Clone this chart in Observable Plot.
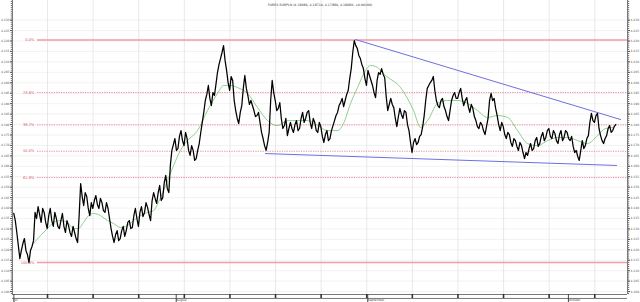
<!DOCTYPE html>
<html><head><meta charset="utf-8">
<script src="https://cdn.jsdelivr.net/npm/d3@7"></script>
<script src="https://cdn.jsdelivr.net/npm/@observablehq/plot@0.6"></script>
<style>body{margin:0;background:#fff}svg{display:block}</style>
</head><body><div id="chart"></div>
<script>
const title = "FOREX EURPLN (4.18080, 4.18710, 4.17880, 4.18080, +0.00100)";

// price series: trading-day index (0 = Mon 7 Jul 2014), one value per 1/3 trading day
const priceStart = 1.3;
const priceStep = 1 / 3;
const prices = [
 4.1374,4.1283,4.1158,4.1230,4.1197,4.1139,4.1216,4.1379,4.1407,4.1331,
 4.1379,4.1302,4.1398,4.1312,4.1350,4.1302,4.1374,4.1283,4.1316,4.1264,
 4.1283,4.1235,4.1517,4.1412,4.1455,4.1364,4.1398,4.1460,4.1398,4.1426,
 4.1379,4.1398,4.1302,4.1235,4.1292,4.1254,4.1312,4.1292,4.1340,4.1307,
 4.1398,4.1312,4.1407,4.1379,4.1403,4.1340,4.1474,4.1422,4.1508,4.1450,
 4.1556,4.1474,4.1676,4.1733,4.1685,4.1771,4.1699,4.1733,4.1652,4.1676,
 4.1637,4.1709,4.1810,4.1915,4.1987,4.1891,4.1939,4.2049,4.2116,4.2178,
 4.2059,4.1963,4.2011,4.1867,4.1805,4.1891,4.2035,4.1939,4.1915,4.1867,
 4.1843,4.1810,4.1733,4.1676,4.1762,4.2011,4.1915,4.1877,4.1829,4.1795,
 4.1747,4.1810,4.1762,4.1819,4.1781,4.1858,4.1829,4.1867,4.1781,4.1810,
 4.1762,4.1790,4.1714,4.1771,4.1733,4.1795,4.1843,4.1891,4.1925,4.1915,
 4.1963,4.2068,4.2202,4.2164,4.2116,4.2068,4.1987,4.2035,4.1987,4.1929,
 4.2049,4.2068,4.2025,4.1867,4.1925,4.1881,4.1790,4.1877,4.1829,4.1858,
 4.1771,4.1666,4.1733,4.1714,4.1752,4.1843,4.1973,4.2001,4.2030,4.1915,
 4.1881,4.1925,4.1867,4.1819,4.1915,4.1953,4.1925,4.1973,4.1891,4.1929,
 4.1858,4.1877,4.1819,4.1781,4.1800,4.1752,4.1829,4.1949,4.1925,4.1843,
 4.1771,4.1790,4.1733,4.1752,4.1695,4.1723,4.1676,4.1699,4.1637,4.1652,
 4.1709,4.1685,4.1738,4.1709,4.1762,4.1738,4.1781,4.1733,4.1757,4.1709,
 4.1771,4.1738,4.1762,4.1723,4.1695,4.1676,4.1628,4.1723,4.1699,4.1747,
 4.1853,4.1810,4.1853,4.1747,4.1709,4.1747,4.1795,4.1771,4.1800
];
// intermediate swings, read half a step (1/6 trading day) after each value above
const pricesBetween = [
 4.1340,4.1220,4.1197,4.1254,4.1177,4.1197,4.1244,4.1350,4.1369,4.1398,
 4.1331,4.1364,4.1340,4.1379,4.1312,4.1340,4.1312,4.1340,4.1283,4.1312,
 4.1254,4.1364,4.1455,4.1474,4.1398,4.1426,4.1436,4.1417,4.1446,4.1388,
 4.1426,4.1350,4.1264,4.1273,4.1244,4.1292,4.1264,4.1331,4.1302,4.1364,
 4.1350,4.1379,4.1359,4.1426,4.1369,4.1436,4.1446,4.1474,4.1436,4.1522,
 4.1493,4.1604,4.1704,4.1676,4.1743,4.1723,4.1762,4.1676,4.1699,4.1628,
 4.1676,4.1762,4.1858,4.1944,4.1925,4.1953,4.1992,4.2087,4.2145,4.2107,
 4.2001,4.2030,4.1915,4.1829,4.1858,4.1973,4.1973,4.1896,4.1891,4.1838,
 4.1858,4.1762,4.1699,4.1714,4.1915,4.1953,4.1867,4.1905,4.1781,4.1829,
 4.1781,4.1781,4.1800,4.1771,4.1829,4.1810,4.1858,4.1810,4.1829,4.1771,
 4.1810,4.1743,4.1752,4.1723,4.1771,4.1819,4.1858,4.1905,4.1886,4.1944,
 4.2020,4.2145,4.2178,4.2131,4.2087,4.2020,4.2059,4.2011,4.1953,4.2011,
 4.2040,4.2040,4.1934,4.1896,4.1896,4.1829,4.1838,4.1848,4.1867,4.1800,
 4.1714,4.1714,4.1704,4.1743,4.1790,4.1915,4.1987,4.2011,4.1963,4.1891,
 4.1915,4.1886,4.1838,4.1867,4.1939,4.1925,4.1953,4.1925,4.1915,4.1886,
 4.1896,4.1838,4.1790,4.1810,4.1771,4.1790,4.1915,4.1915,4.1877,4.1800,
 4.1810,4.1752,4.1762,4.1714,4.1733,4.1695,4.1714,4.1666,4.1666,4.1685,
 4.1676,4.1723,4.1695,4.1743,4.1723,4.1771,4.1743,4.1771,4.1723,4.1752,
 4.1723,4.1771,4.1733,4.1743,4.1666,4.1647,4.1676,4.1685,4.1733,4.1810,
 4.1819,4.1843,4.1781,4.1723,4.1733,4.1781,4.1762,4.1790
];

// moving average (green)
const maT = [3.46,4.23,5.00,5.66,6.43,7.19,7.85,8.40,8.95,9.50,10.04,10.81,11.58,12.24,13.00,13.77,14.43,15.20,15.97,16.62,
 17.39,18.16,18.82,19.58,20.35,21.45,22.54,23.64,24.30,25.07,25.83,26.93,28.03,29.12,30.22,31.32,32.41,33.51,34.61,35.70,
 36.80,37.46,38.22,38.99,39.87,40.42,41.19,42.06,43.71,45.13,45.90,46.67,47.77,48.86,49.96,51.06,52.15,53.25,54.34,55.44,
 56.54,57.63,58.73,59.83,60.92,62.02,63.12,64.21,65.31,66.18,67.07];
const maV = [4.1230,4.1268,4.1302,4.1331,4.1340,4.1331,4.1302,4.1302,4.1331,4.1364,4.1374,4.1364,4.1340,4.1326,4.1307,4.1316,4.1340,4.1364,4.1379,4.1388,
 4.1450,4.1532,4.1604,4.1676,4.1723,4.1771,4.1867,4.1949,4.1987,4.1987,4.1977,4.1949,4.1881,4.1819,4.1795,4.1819,4.1819,4.1819,4.1795,4.1771,
 4.1771,4.1805,4.1901,4.1977,4.2059,4.2083,4.2073,4.2035,4.1977,4.1867,4.1786,4.1819,4.1901,4.1915,4.1915,4.1901,4.1867,4.1834,4.1843,4.1834,
 4.1771,4.1709,4.1699,4.1723,4.1738,4.1738,4.1723,4.1709,4.1747,4.1781,4.1786];

// trend lines
const upperTrendT = [38.77, 67.83];
const upperTrendV = [4.2207, 4.1824];
const lowerTrendT = [28.90, 67.39];
const lowerTrendV = [4.1661, 4.1604];

// Fibonacci retracement
const fibLabels = ["0.0%", "23.6%", "38.2%", "50.0%", "61.8%", "100.0%"];
const fibLevels = [4.2205, 4.1953, 4.1798, 4.1672, 4.1546, 4.1139];
const fibSolid = [true, false, false, false, false, true];
const fibStartT = 3.9;

// axes
const yTicks = [4.100,4.105,4.110,4.115,4.120,4.125,4.130,4.135,4.140,4.145,4.150,4.155,4.160,4.165,4.170,
 4.175,4.180,4.185,4.190,4.195,4.200,4.205,4.210,4.215,4.220,4.225,4.230];
const weekTicks = [5,10,15,20,25,30,35,40,45,50,55,60,65];
const monthTicks = [1.2, 19, 40, 62];
const monthLabels = ["Jul", "August", "September", "October"];

const xDomain = [1.16, 68.59];
const yDomain = [4.0986, 4.2394];
const stripBottom = 4.0967;

const priceData = prices.map((v, i) => ({t: priceStart + i * priceStep, v}))
  .concat(pricesBetween.map((v, i) => ({t: priceStart + i * priceStep + priceStep / 2, v})))
  .sort((a, b) => a.t - b.t);
const maData = maT.map((t, i) => ({t, v: maV[i]}));
const upper = upperTrendT.map((t, i) => ({t, v: upperTrendV[i]}));
const lower = lowerTrendT.map((t, i) => ({t, v: lowerTrendV[i]}));
const fibData = fibLevels.map((v, i) => ({v, label: fibLabels[i], solid: fibSolid[i]}));
const minor = d3.range(4.099, 4.2394, 0.001);

const chart = Plot.plot({
  width: 640, height: 302,
  marginLeft: 12, marginRight: 13, marginTop: 0, marginBottom: 8,
  x: {domain: xDomain, axis: null},
  y: {domain: yDomain, axis: null},
  style: {fontFamily: "DejaVu Sans", background: "#fff"},
  marks: [
    Plot.ruleY(yTicks, {stroke: "#ececec", strokeWidth: 0.7}),
    Plot.ruleX(weekTicks, {stroke: "#e0e0e0", strokeWidth: 0.7}),
    Plot.ruleY(fibData.filter(d => d.solid), {y: "v", x1: fibStartT, x2: xDomain[1], stroke: "#f39aa8", strokeWidth: 1.6}),
    Plot.ruleY(fibData.filter(d => !d.solid), {y: "v", x1: fibStartT, x2: xDomain[1], stroke: "#e8707e", strokeWidth: 0.8, strokeDasharray: "1.2,1.2"}),
    Plot.text(fibData, {x: fibStartT, y: "v", text: "label", textAnchor: "end", dx: -3, fill: "#e05068", fontSize: 3.6}),
    Plot.line(maData, {x: "t", y: "v", stroke: "#72c272", strokeWidth: 0.8, curve: "monotone-x"}),
    Plot.line(upper, {x: "t", y: "v", stroke: "#6f6fe0", strokeWidth: 1}),
    Plot.line(lower, {x: "t", y: "v", stroke: "#6f6fe0", strokeWidth: 1}),
    Plot.line(priceData, {x: "t", y: "v", stroke: "#000", strokeWidth: 1.25}),
    Plot.ruleX([xDomain[0], xDomain[1]], {stroke: "#555", strokeWidth: 0.8}),
    Plot.ruleY([yDomain[0], stripBottom], {stroke: "#555", strokeWidth: 0.8}),
    Plot.axisY(minor, {anchor: "left", tickSize: 1.2, tickFormat: () => "", label: null, color: "#666"}),
    Plot.axisY(minor, {anchor: "right", tickSize: 1.2, tickFormat: () => "", label: null, color: "#666"}),
    Plot.axisY(yTicks, {anchor: "left", tickSize: 2, tickPadding: 1, tickFormat: d3.format(".3f"), label: null, fontSize: 3, color: "#555"}),
    Plot.axisY(yTicks, {anchor: "right", tickSize: 2, tickPadding: 1, tickFormat: d3.format(".3f"), label: null, fontSize: 3, color: "#555"}),
    Plot.axisX(weekTicks, {anchor: "bottom", tickSize: 4, tickFormat: () => "", label: null, strokeWidth: 1.6, color: "#333"}),
    Plot.axisX(monthTicks, {anchor: "bottom", tickSize: 8, tickPadding: -3.5, tickFormat: d => monthLabels[monthTicks.indexOf(d)], label: null, textAnchor: "start", dx: 1, fontSize: 3, color: "#444"}),
    Plot.text([title], {frameAnchor: "top", dy: 3, fontSize: 3.2, fill: "#333"})
  ]
});
document.getElementById("chart").append(chart);
</script>
</body></html>
